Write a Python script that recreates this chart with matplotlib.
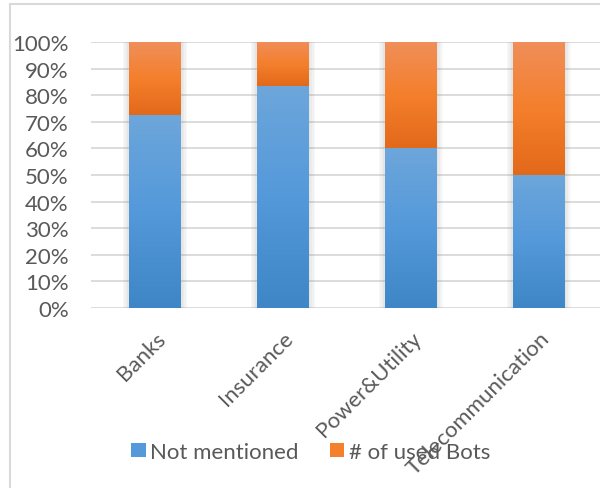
import matplotlib.pyplot as plt
import numpy as np
from matplotlib.colors import LinearSegmentedColormap
from matplotlib.patches import Rectangle, Patch
from matplotlib.lines import Line2D

categories = ["Banks", "Insurance", "Power&Utility", "Telecommunication"]
not_mentioned = [72.7, 83.3, 60.0, 50.0]
used_bots = [27.3, 16.7, 40.0, 50.0]
series_names = ["Not mentioned", "# of used Bots"]

plt.rcParams["font.family"] = ["Lato", "DejaVu Sans"]
text_color = "#595959"
grid_color = "#D9D9D9"

blue_cmap = LinearSegmentedColormap.from_list("blue", ["#3E86C6", "#5499DA", "#6DA6DB"])
orange_cmap = LinearSegmentedColormap.from_list("orange", ["#E3691A", "#F47F2C", "#F08F5A"])

fig = plt.figure(figsize=(6.0, 4.89), dpi=100)
ax = fig.add_axes([0.1517, 0.368, 0.853, 0.544])

x = np.arange(len(categories))
width = 0.406
grad = np.linspace(0, 1, 256).reshape(-1, 1)


def gradient_bars(bottoms, heights, cmap):
    bars = ax.bar(x, heights, width, bottom=bottoms, color="none", linewidth=0, zorder=3)
    for b in bars:
        x0, y0 = b.get_x(), b.get_y()
        w, h = b.get_width(), b.get_height()
        im = ax.imshow(grad, extent=[x0, x0 + w, y0, y0 + h], origin="lower",
                       cmap=cmap, aspect="auto", zorder=3)
        im.set_clip_path(b)
    return bars


# soft shadow behind the bars
for xi in x:
    for k in range(1, 5):
        ax.add_patch(Rectangle((xi - width / 2 - 0.012 * k, -0.4 * k), width + 0.024 * k,
                               100 + 0.4 * k, color="#808080", alpha=0.05, lw=0, zorder=2))

gradient_bars([0] * 4, not_mentioned, blue_cmap)
gradient_bars(not_mentioned, used_bots, orange_cmap)

ax.set_xlim(-0.5, 3.5)
ax.set_ylim(0, 100)
ax.set_yticks(np.arange(0, 101, 10))
ax.set_yticklabels([f"{v}%" for v in range(0, 101, 10)])
ax.yaxis.grid(True, color=grid_color, linewidth=1.3)
ax.set_axisbelow(True)
for s in ax.spines.values():
    s.set_visible(False)
ax.tick_params(axis="y", length=0, pad=16, labelsize=16, labelcolor=text_color)
ax.tick_params(axis="x", length=0, pad=14, labelsize=16, labelcolor=text_color)
ax.set_xticks(x)
ax.set_xticklabels(categories, rotation=45, ha="right", rotation_mode="anchor")
for lbl in ax.get_xticklabels():
    lbl.set_zorder(10)

handles = [Patch(facecolor="#5499DA", edgecolor="none"),
           Patch(facecolor="#F47F2C", edgecolor="none")]
fig.legend(handles, series_names, loc="center", bbox_to_anchor=(0.518, 0.074),
           ncol=2, frameon=False, fontsize=16, labelcolor=text_color,
           handlelength=0.65, handleheight=0.65, handletextpad=0.2, columnspacing=1.4)

# outer chart border (partly cropped)
fig.add_artist(Line2D([10 / 600, 10 / 600], [0, 1 - 5 / 489], color=grid_color, lw=1.5,
                      transform=fig.transFigure))
fig.add_artist(Line2D([10 / 600, 1], [1 - 5 / 489, 1 - 5 / 489], color=grid_color, lw=1.5,
                      transform=fig.transFigure))

fig.savefig("out.png", dpi=100)
